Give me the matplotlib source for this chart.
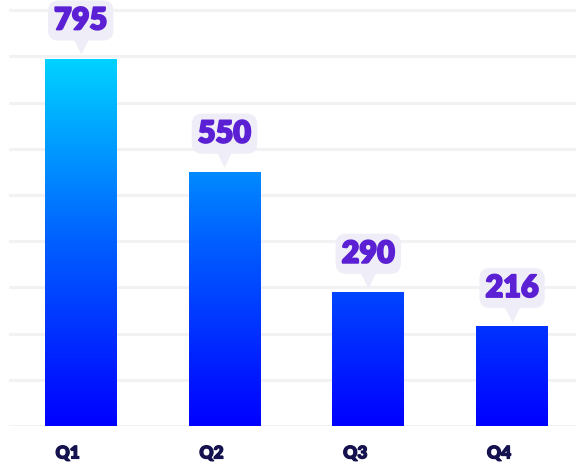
import numpy as np
import matplotlib
matplotlib.use('Agg')
import matplotlib.pyplot as plt
import matplotlib.transforms as mtransforms
import matplotlib.patheffects as pe
from matplotlib.colors import LinearSegmentedColormap

# data
quarters = ['Q1', 'Q2', 'Q3', 'Q4']
values = [795, 550, 290, 216]

fig = plt.figure(figsize=(5.76, 4.66), dpi=100)
ax = fig.add_axes([8.8 / 576, 40 / 466, 1 - 8.8 / 576, 426 / 466])

ymax = 922
ax.set_xlim(-0.5, 3.445)
ax.set_ylim(0, ymax)

# light horizontal grid
for g in range(0, 1000, 100):
    ax.axhline(g, color='#f2f2f5', lw=2.2, zorder=0)

# gradient bars: colour depends on absolute height
cmap = LinearSegmentedColormap.from_list('blues', ['#0000ff', '#0060ff', '#00d6ff'])
grad = np.linspace(0, 1, 256).reshape(-1, 1)
width = 0.5
for i, v in enumerate(values):
    bar = ax.bar(i, v, width=width, color='none', edgecolor='none', zorder=2)[0]
    im = ax.imshow(grad, cmap=cmap, origin='lower', aspect='auto',
                   extent=(i - width / 2, i + width / 2, 0, 805), zorder=2)
    im.set_clip_path(bar)

# value callouts
purple = '#5b1fd4'
for i, v in enumerate(values):
    tri = mtransforms.offset_copy(ax.transData, fig=fig, x=0, y=9.0, units='points')
    ax.plot(i, v, marker='v', ms=11, color='#efedf7', mec='none', transform=tri,
            zorder=3, clip_on=False)
    ax.annotate(str(v), xy=(i, v), xytext=(0, 27.5), textcoords='offset points',
                ha='center', va='center', fontsize=22, fontweight='heavy',
                family=['Lato', 'DejaVu Sans'], color=purple, zorder=4,
                annotation_clip=False,
                path_effects=[pe.withStroke(linewidth=1.3, foreground=purple)],
                bbox=dict(boxstyle='round,pad=0.2,rounding_size=0.35',
                          fc='#efedf7', ec='none'))

ax.set_xticks(range(len(quarters)))
ax.set_xticklabels(quarters, fontsize=12.5, fontweight='heavy',
                   family=['Lato', 'DejaVu Sans'], color='#14124f')
ax.tick_params(axis='x', length=0, pad=14)
shift = mtransforms.ScaledTranslation(-13 / 100, 0, fig.dpi_scale_trans)
for lab in ax.get_xticklabels():
    lab.set_transform(lab.get_transform() + shift)
    lab.set_path_effects([pe.withStroke(linewidth=0.9, foreground='#14124f')])
ax.set_yticks([])
for s in ax.spines.values():
    s.set_visible(False)

fig.savefig('out.png', dpi=100)
